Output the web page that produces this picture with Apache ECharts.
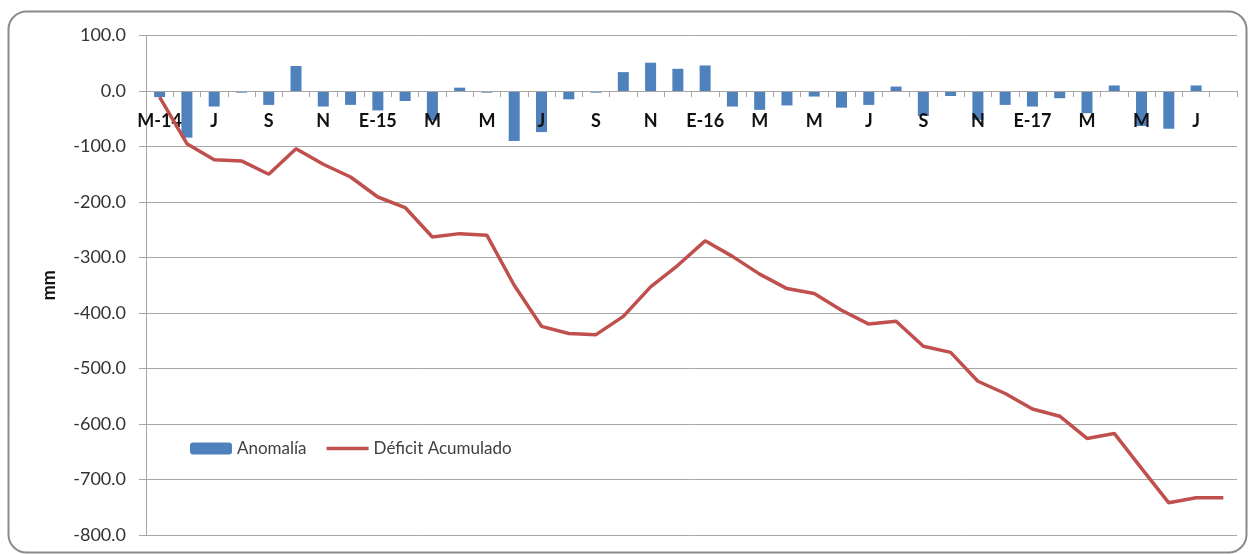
<!DOCTYPE html>
<html>
<head>
<meta charset="utf-8">
<script src="https://cdn.jsdelivr.net/npm/echarts@6/dist/echarts.min.js"></script>
<style>
  html, body { margin: 0; padding: 0; background: #fff; }
  #chart { width: 1249px; height: 554px; }
</style>
</head>
<body>
<div id="chart"></div>
<script>
// Monthly categories, May 2014 – Aug 2017
const months = [
  'M-14','J','J','A','S','O','N','D',
  'E-15','F','M','A','M','J','J','A','S','O','N','D',
  'E-16','F','M','A','M','J','J','A','S','O','N','D',
  'E-17','F','M','A','M','J','J','A'
];

// Monthly precipitation anomaly (mm)
const anomalia = [
  -11, -84, -28, -3, -25, 45, -28, -25,
  -35, -18, -53, 6, -3, -90, -74, -15, -3, 34, 51, 40,
  46, -28, -34, -26, -10, -30, -25, 8, -45, -9, -52, -25,
  -28, -13, -40, 10, -63, -68, 10, 0
];

// Accumulated deficit (mm)
const deficitAcumulado = [
  -11, -95, -124, -126, -150, -104, -132, -155,
  -191, -210, -263, -257, -260, -350, -424, -437, -439, -406, -353, -314,
  -270, -298, -330, -356, -365, -395, -420, -415, -460, -471, -523, -545,
  -573, -586, -626, -617, -680, -742, -733, -733
];

const yMin = -800, yMax = 100, yStep = 100;

const gridTop = 35.5, gridBottom = 19;
const chartHeight = 554;
// distance from the top of the plot down to the zero line (used to hang the month labels there)
const plotHeight = chartHeight - gridTop - gridBottom;
const zeroOffset = plotHeight * (yMax - 0) / (yMax - yMin);

const chart = echarts.init(document.getElementById('chart'), null, { renderer: 'canvas' });
const gridColor = '#a6a6a6';

chart.setOption({
  animation: false,
  backgroundColor: '#ffffff',
  textStyle: { fontFamily: 'Lato' },
  graphic: [{
    type: 'rect',
    silent: true,
    shape: { x: 8.5, y: 11.5, width: 1238, height: 541, r: 18 },
    style: { fill: 'none', stroke: '#8a8a8a', lineWidth: 2 }
  }],
  grid: { left: 146, right: 12, top: gridTop, bottom: gridBottom, containLabel: false, outerBoundsMode: 'none' },
  legend: {
    left: 190, top: 440, padding: 0,
    itemWidth: 42, itemHeight: 12, itemGap: 20,
    textStyle: { fontFamily: 'Lato', fontSize: 17, color: '#404040' },
    data: [
      { name: 'Anomalía' },
      { name: 'Déficit Acumulado', icon: 'path://M0,0L42,0L42,3.5L0,3.5Z' }
    ]
  },
  xAxis: [
    {
      // zero line with a tick between every month
      type: 'category',
      data: months,
      z: 2,
      axisLine: { onZero: true, lineStyle: { color: gridColor, width: 1 } },
      axisTick: { show: true, interval: 0, length: 6, lineStyle: { color: gridColor } },
      axisLabel: { show: false },
      splitLine: { show: false }
    },
    {
      // month labels hanging just below the zero line
      type: 'category',
      data: months,
      position: 'top',
      offset: -zeroOffset,
      z: 2,
      axisLine: { show: false, onZero: false },
      axisTick: { show: false },
      axisLabel: {
        inside: true, interval: 1, margin: 21,
        fontFamily: 'Lato', fontWeight: 'bold', fontSize: 18, color: '#111'
      },
      splitLine: { show: false }
    }
  ],
  yAxis: {
    type: 'value',
    min: yMin, max: yMax, interval: yStep,
    name: 'mm',
    nameLocation: 'middle',
    nameGap: 88,
    nameRotate: 90,
    nameTextStyle: { fontFamily: 'Lato', fontWeight: 'bold', fontSize: 18, color: '#111' },
    axisLine: { show: true, lineStyle: { color: gridColor, width: 1 } },
    axisTick: { show: true, length: 7, lineStyle: { color: gridColor } },
    axisLabel: {
      margin: 20,
      fontFamily: 'Lato', fontSize: 18, color: '#333',
      formatter: v => v.toFixed(1)
    },
    splitLine: { show: true, lineStyle: { color: gridColor, width: 1 } }
  },
  series: [
    {
      name: 'Anomalía',
      type: 'bar',
      z: 1,
      data: anomalia,
      barWidth: 11,
      itemStyle: { color: '#4f81bd' }
    },
    {
      name: 'Déficit Acumulado',
      type: 'line',
      z: 3,
      data: deficitAcumulado,
      symbol: 'none',
      lineStyle: { color: '#c0504d', width: 3.5 },
      itemStyle: { color: '#c0504d' }
    }
  ]
});
</script>
</body>
</html>
